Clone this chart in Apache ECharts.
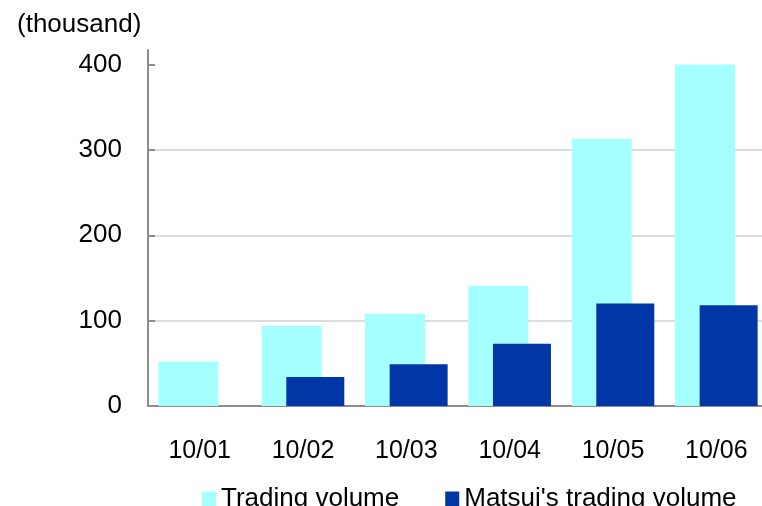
<!DOCTYPE html>
<html>
<head>
<meta charset="utf-8">
<script src="https://cdn.jsdelivr.net/npm/echarts@6/dist/echarts.min.js"></script>
<style>
  html, body { margin: 0; padding: 0; background: #fff; }
  #chart { width: 762px; height: 506px; }
</style>
</head>
<body>
<div id="chart"></div>
<script>
// Daily trading volume, in thousands
const categories = ['10/01', '10/02', '10/03', '10/04', '10/05', '10/06'];
const tradingVolume = [52, 94, 108, 141, 313, 400];
const matsuiVolume = [null, 34, 49, 73, 120, 118];
const yTicks = [0, 100, 200, 300, 400];

const FONT = '"Liberation Sans", Arial, sans-serif';
const AXIS_GRAY = '#8c8c8c';

const chart = echarts.init(document.getElementById('chart'), null, { renderer: 'canvas' });

chart.setOption({
  animation: false,
  backgroundColor: '#ffffff',
  title: {
    text: '(thousand)',
    left: 12,
    top: 7,
    textStyle: { fontFamily: FONT, fontSize: 26, fontWeight: 'normal', color: '#000' }
  },
  legend: {
    left: 197,
    top: 481,
    itemWidth: 14,
    itemHeight: 15,
    itemGap: 46,
    icon: 'rect',
    textStyle: { fontFamily: FONT, fontSize: 26, color: '#000', padding: [0, 0, 0, 0] },
    data: ['Trading volume', "Matsui's trading volume"]
  },
  grid: {
    left: 148,
    top: 50,
    width: 620,
    bottom: 100,
    containLabel: false,
    outerBoundsMode: 'none'
  },
  xAxis: {
    type: 'category',
    data: categories,
    axisLine: { lineStyle: { color: AXIS_GRAY, width: 2 } },
    axisTick: { show: false },
    axisLabel: { fontFamily: FONT, fontSize: 25, color: '#000', margin: 33 }
  },
  yAxis: {
    type: 'value',
    min: 0,
    max: 417,
    interval: 100,
    axisLine: { show: true, lineStyle: { color: AXIS_GRAY, width: 2 } },
    axisTick: {
      show: true,
      inside: true,
      length: 7,
      customValues: yTicks,
      lineStyle: { color: AXIS_GRAY, width: 2 }
    },
    axisLabel: {
      fontFamily: FONT,
      fontSize: 26,
      color: '#000',
      margin: 26,
      customValues: yTicks
    },
    splitLine: {
      show: true,
      showMaxLine: false,
      lineStyle: { color: '#dcdcdc', width: 2 }
    }
  },
  series: [
    {
      name: 'Trading volume',
      type: 'bar',
      data: tradingVolume,
      barWidth: 60,
      barGap: '-59%',
      itemStyle: { color: '#a6ffff' }
    },
    {
      name: "Matsui's trading volume",
      type: 'bar',
      data: matsuiVolume,
      barWidth: 58,
      itemStyle: { color: '#0036a6' }
    }
  ]
});
</script>
</body>
</html>
